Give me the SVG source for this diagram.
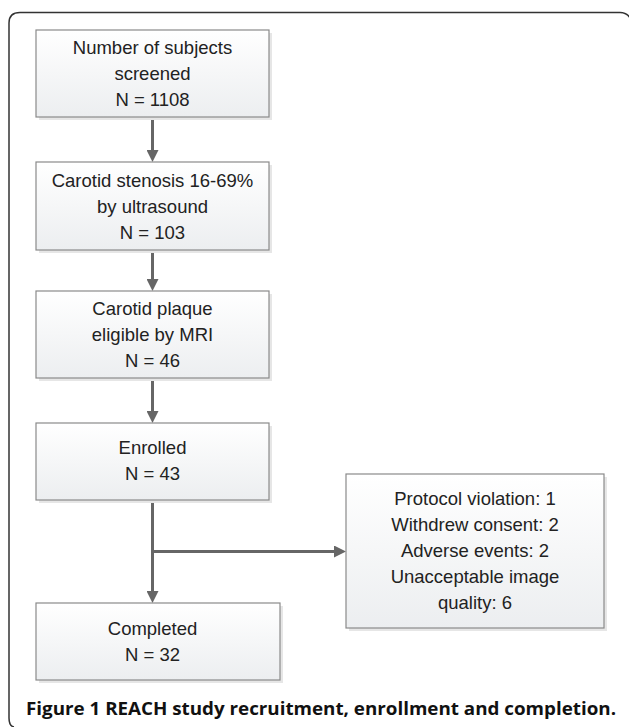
<svg xmlns="http://www.w3.org/2000/svg" width="629" height="727" viewBox="0 0 629 727">
<defs>
<linearGradient id="boxfill" x1="0" y1="0" x2="0" y2="1">
<stop offset="0" stop-color="#ffffff"/>
<stop offset="1" stop-color="#eceef0"/>
</linearGradient>
<marker id="arrow" viewBox="0 0 12 12" refX="2" refY="6" markerWidth="12" markerHeight="12" markerUnits="userSpaceOnUse" orient="auto">
<path d="M0,0 L12,6 L0,12 z" fill="#666666"/>
</marker>
</defs>
<style>
.box{fill:url(#boxfill);stroke:#8a8a8a;stroke-width:1.2}
.shadow{fill:#e6e6e6}
.t{font-family:"Liberation Sans",Arial,sans-serif;font-size:18.5px;fill:#222;text-anchor:middle}
.conn{fill:none;stroke:#666666;stroke-width:3}
.cap{font-family:"Open Sans","Noto Sans",sans-serif;font-size:18.5px;font-weight:bold;fill:#111}
</style>
<rect width="629" height="727" fill="#ffffff"/>
<path d="M14,727 Q9,726 9,718 L9,23 Q9,12.5 20,12.5 L620,12.5 Q628,12.5 631,20" fill="none" stroke="#333" stroke-width="1.5"/>

<g id="connectors">
<path class="conn" d="M152.5,117 V152" marker-end="url(#arrow)"/>
<path class="conn" d="M152.5,250 V281" marker-end="url(#arrow)"/>
<path class="conn" d="M152.5,378 V413" marker-end="url(#arrow)"/>
<path class="conn" d="M152.5,500 V593" marker-end="url(#arrow)"/>
<path class="conn" d="M152.5,551.5 H336" marker-end="url(#arrow)"/>
</g>

<g id="screened">
<rect class="shadow" x="39" y="33" width="233" height="87"/>
<rect class="box" x="36" y="30" width="233" height="87"/>
<text class="t" x="152.5" y="54">Number of subjects</text>
<text class="t" x="152.5" y="80">screened</text>
<text class="t" x="152.5" y="106">N = 1108</text>
</g>

<g id="stenosis">
<rect class="shadow" x="39" y="165" width="233" height="88"/>
<rect class="box" x="36" y="162" width="233" height="88"/>
<text class="t" x="152.5" y="187">Carotid stenosis 16-69%</text>
<text class="t" x="152.5" y="213">by ultrasound</text>
<text class="t" x="152.5" y="239">N = 103</text>
</g>

<g id="plaque">
<rect class="shadow" x="39" y="294" width="233" height="87"/>
<rect class="box" x="36" y="291" width="233" height="87"/>
<text class="t" x="152.5" y="315">Carotid plaque</text>
<text class="t" x="152.5" y="341">eligible by MRI</text>
<text class="t" x="152.5" y="367">N = 46</text>
</g>

<g id="enrolled">
<rect class="shadow" x="39" y="426" width="233" height="77"/>
<rect class="box" x="36" y="423" width="233" height="77"/>
<text class="t" x="152.5" y="454">Enrolled</text>
<text class="t" x="152.5" y="480">N = 43</text>
</g>

<g id="excluded">
<rect class="shadow" x="349" y="477" width="258" height="154"/>
<rect class="box" x="346" y="474" width="258" height="154"/>
<text class="t" x="475" y="505">Protocol violation: 1</text>
<text class="t" x="475" y="531">Withdrew consent: 2</text>
<text class="t" x="475" y="557">Adverse events: 2</text>
<text class="t" x="475" y="583">Unacceptable image</text>
<text class="t" x="475" y="609">quality: 6</text>
</g>

<g id="completed">
<rect class="shadow" x="39" y="606" width="244" height="77"/>
<rect class="box" x="36" y="603" width="244" height="77"/>
<text class="t" x="152.5" y="635">Completed</text>
<text class="t" x="152.5" y="661">N = 32</text>
</g>

<text class="cap" x="26" y="715" textLength="590" lengthAdjust="spacingAndGlyphs">Figure 1 REACH study recruitment, enrollment and completion.</text>
</svg>
